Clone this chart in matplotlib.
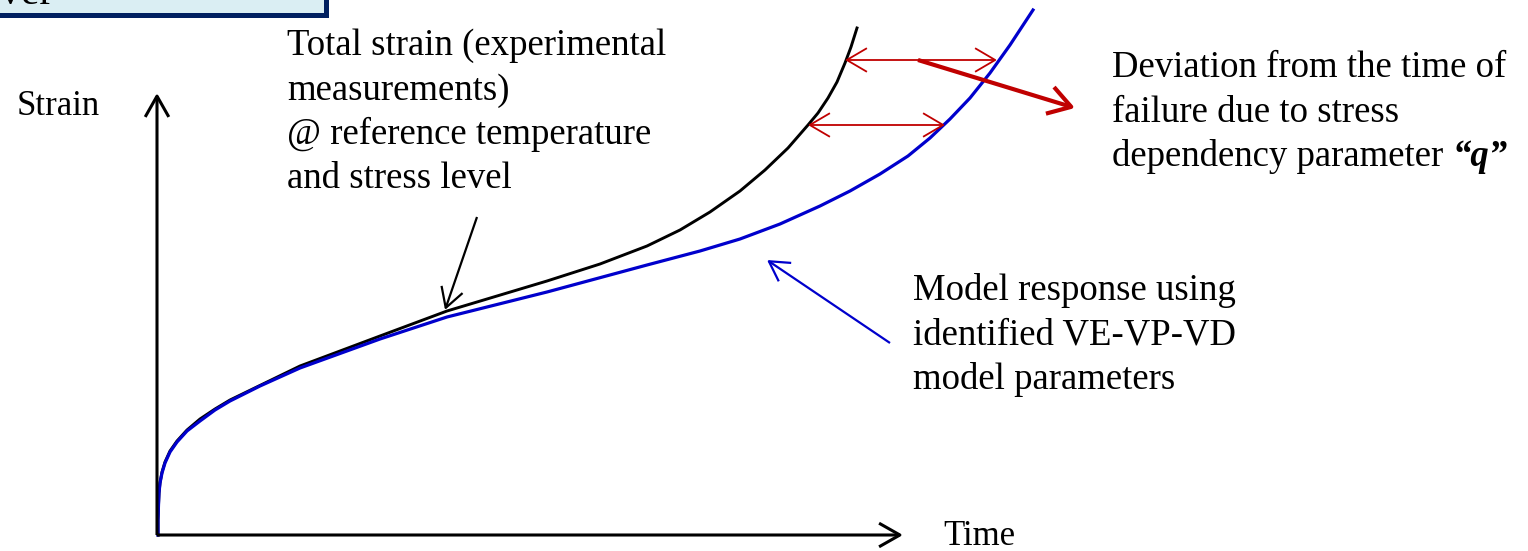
import matplotlib
matplotlib.use("Agg")
import matplotlib.pyplot as plt
from matplotlib.patches import Rectangle

# ── Curves (time, strain), origin at the corner of the axes ──
exp_time = [1, 1, 1.5, 2, 3, 5, 8, 13, 20, 30, 43, 58, 73, 108, 143, 183,
            223, 290, 340, 390, 443, 490, 523, 553, 583, 608, 631, 651, 661,
            671, 680, 688, 694, 700]
exp_strain = [0, 15, 30, 42, 52, 63, 73, 84, 94, 105, 116, 126, 135, 152,
              169, 184, 199, 224, 239, 254, 271, 289, 305, 323, 344, 365,
              387, 410, 422, 437, 453, 472, 488, 507]

model_time = [1, 1, 1.5, 2, 3, 5, 8, 13, 20, 30, 43, 58, 73, 103, 143, 223,
              290, 390, 490, 543, 583, 623, 663, 693, 723, 751, 773, 793,
              813, 833, 853, 876]
model_strain = [0, 15, 30, 42, 52, 62, 72, 83, 93, 104, 114, 125, 134, 149,
                167, 196, 218, 243, 270, 284, 296, 311, 329, 344, 361, 379,
                397, 416, 437, 462, 490, 525]

# time-of-failure deviation markers: (t_exp, t_model, strain level)
deviations = [(688, 840, 475), (651, 788, 410)]

# ── Style ──
FONT = "Liberation Serif"
FS = 26.5
RED = "#C00000"
BLUE = "#0000CC"
LINE_STEP = 44.5

fig = plt.figure(figsize=(15.28, 5.51), dpi=100)
ax = fig.add_axes([0, 0, 1, 1])
ax.set_xlim(-157, 1371)
ax.set_ylim(-16, 535)
ax.axis("off")


def arrow(tail, tip, color="black", lw=2.0, style="->", hl=1.4, hw=0.8):
    ax.annotate("", xy=tip, xytext=tail,
                arrowprops=dict(arrowstyle=f"{style},head_length={hl},head_width={hw}",
                                color=color, lw=lw, shrinkA=0, shrinkB=0,
                                mutation_scale=10, capstyle="butt"))


def put_lines(x, y0, lines, size=FS, **kw):
    for i, s in enumerate(lines):
        ax.text(x, y0 - i * LINE_STEP, s, fontfamily=FONT, fontsize=size,
                va="baseline", ha="left", **kw)


# ── Header strip ──
ax.add_patch(Rectangle((-175, 520), 343.5, 60, facecolor="#DAEEF3",
                       edgecolor="#002060", lw=3.6, clip_on=False))
ax.text(-157, 531, "ver", fontfamily=FONT, fontsize=30, va="baseline")

# ── Axes arrows ──
arrow((0, 0), (0, 442), lw=2.2, hl=1.5, hw=0.85)
arrow((0, 0), (746, 0), lw=2.2, hl=1.5, hw=0.85)

# ── Curves ──
ax.plot(exp_time, exp_strain, color="black", lw=2.1, solid_joinstyle="round")
ax.plot(model_time, model_strain, color=BLUE, lw=2.3, solid_joinstyle="round")

# ── Deviation arrows ──
for t0, t1, s in deviations:
    arrow((t0, s), (t1, s), color=RED, lw=1.3, style="<->", hl=1.45, hw=0.85)
arrow((761, 475), (918, 427), color=RED, lw=3.0, hl=1.6, hw=1.0)

# ── Pointers ──
arrow((320, 318), (288, 225), lw=1.6)
arrow((733, 192), (610, 275), color=BLUE, lw=1.6)

# ── Labels ──
put_lines(-140, 420, ["Strain"], size=25)
put_lines(786, -10, ["Time"], size=25)
put_lines(130, 480, ["Total strain (experimental", "measurements)",
                     "@ reference temperature", "and stress level"])
put_lines(955, 458, ["Deviation from the time of", "failure due to stress"])
last = ax.text(955, 458 - 2 * LINE_STEP, "dependency parameter ",
               fontfamily=FONT, fontsize=FS, va="baseline", ha="left")
ax.annotate("\u201cq\u201d", xy=(1, 0), xycoords=last, va="bottom", ha="left",
            fontfamily=FONT, fontsize=FS, fontweight="bold", fontstyle="italic")
put_lines(756, 235, ["Model response using", "identified VE-VP-VD",
                     "model parameters"])

fig.savefig("out.png", dpi=100)
